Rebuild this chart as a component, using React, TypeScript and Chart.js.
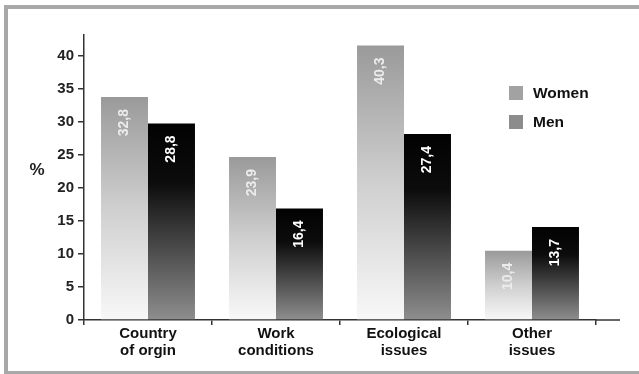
import React, { useEffect, useRef } from "react";
import { Chart, registerables } from "chart.js";

Chart.register(...registerables);

const categories: string[][] = [
  ["Country", "of orgin"],
  ["Work", "conditions"],
  ["Ecological", "issues"],
  ["Other", "issues"],
];
const seriesNames = ["Women", "Men"];
const womenValues = [33.8, 24.7, 41.6, 10.5];
const menValues = [29.8, 16.9, 28.2, 14.1];
const womenLabels = ["32,8", "23,9", "40,3", "10,4"];
const menLabels = ["28,8", "16,4", "27,4", "13,7"];
const yTickStep = 5;
const yMax = 43.2;

const FONT = "'Liberation Sans', Arial, sans-serif";

function barGradient(ctx: any, which: number) {
  const chart = ctx.chart;
  const scales = chart.scales;
  if (!scales || !scales.y || ctx.type !== "data") {
    return which === 0 ? "#c8c8c8" : "#333";
  }
  const v = ctx.raw as number;
  const yTop = scales.y.getPixelForValue(v);
  const yBase = scales.y.getPixelForValue(0);
  if (!isFinite(yTop) || !isFinite(yBase) || yBase - yTop < 1) {
    return which === 0 ? "#c8c8c8" : "#333";
  }
  const g = chart.ctx.createLinearGradient(0, yTop, 0, yBase);
  if (which === 0) {
    g.addColorStop(0, "#9a9a9a");
    g.addColorStop(0.5, "#cfcfcf");
    g.addColorStop(1, "#f8f8f8");
  } else {
    g.addColorStop(0, "#020202");
    g.addColorStop(0.3, "#0c0c0c");
    g.addColorStop(1, "#8e8e8e");
  }
  return g;
}

const decorPlugin = {
  id: "decor",
  beforeDraw(chart: any) {
    const ctx = chart.ctx;
    ctx.save();
    ctx.fillStyle = "#ffffff";
    ctx.fillRect(0, 0, chart.width, chart.height);
    ctx.fillStyle = "#a8a8a8";
    ctx.fillRect(4, 5, chart.width - 4, 4);
    ctx.fillRect(4, 5, 4, chart.height - 5);
    ctx.fillRect(4, chart.height - 3, chart.width - 4, 3);
    ctx.restore();
  },
  afterDraw(chart: any) {
    const ctx = chart.ctx;
    const area = chart.chartArea;
    ctx.save();
    // extend x axis line
    ctx.strokeStyle = "#333";
    ctx.lineWidth = 1.5;
    ctx.beginPath();
    ctx.moveTo(area.right - 1, area.bottom);
    ctx.lineTo(area.right + 24, area.bottom);
    ctx.stroke();

    // % label
    ctx.fillStyle = "#222";
    ctx.font = `bold 17px ${FONT}`;
    ctx.textAlign = "center";
    ctx.textBaseline = "middle";
    ctx.fillText("%", 37, 170);

    // legend
    const legendColors = ["#a2a2a2", "#8c8c8c"];
    const legendY = [86, 115];
    ctx.font = `bold 15.5px ${FONT}`;
    ctx.textAlign = "left";
    for (let i = 0; i < seriesNames.length; i++) {
      ctx.fillStyle = legendColors[i];
      ctx.fillRect(509, legendY[i], 14, 14);
      ctx.fillStyle = "#111";
      ctx.fillText(seriesNames[i], 533, legendY[i] + 7.5);
    }

    // bar value labels
    const labelSets = [womenLabels, menLabels];
    const labelColors = ["#ececec", "#ffffff"];
    ctx.font = `bold 14px ${FONT}`;
    ctx.textAlign = "right";
    ctx.textBaseline = "middle";
    for (let d = 0; d < chart.data.datasets.length; d++) {
      const meta = chart.getDatasetMeta(d);
      meta.data.forEach((el: any, i: number) => {
        ctx.save();
        ctx.translate(el.x, el.y + 12);
        ctx.rotate(-Math.PI / 2);
        ctx.fillStyle = labelColors[d];
        ctx.fillText(labelSets[d][i], 0, 0);
        ctx.restore();
      });
    }
    ctx.restore();
  },
};

export default function App() {
  const ref = useRef<HTMLCanvasElement | null>(null);
  useEffect(() => {
    if (!ref.current) return;
    const chart = new Chart(ref.current, {
      type: "bar",
      data: {
        labels: categories as any,
        datasets: [
          {
            label: seriesNames[0],
            data: womenValues,
            backgroundColor: (c: any) => barGradient(c, 0),
            borderWidth: 0,
            barPercentage: 1,
            categoryPercentage: 0.734,
          },
          {
            label: seriesNames[1],
            data: menValues,
            backgroundColor: (c: any) => barGradient(c, 1),
            borderWidth: 0,
            barPercentage: 1,
            categoryPercentage: 0.734,
          },
        ],
      },
      options: {
        responsive: false,
        animation: false,
        events: [],
        layout: { padding: { left: 44, right: 43, top: 35, bottom: 0 } },
        plugins: {
          legend: { display: false },
          tooltip: { enabled: false },
          title: { display: false },
        },
        scales: {
          x: {
            type: "category",
            offset: true,
            grid: {
              display: true,
              drawOnChartArea: false,
              drawTicks: true,
              tickLength: 5,
              color: "#333",
              lineWidth: 1.5,
              offset: true,
            },
            border: { display: true, color: "#333", width: 1.5 },
            ticks: {
              color: "#111",
              padding: 0,
              maxRotation: 0,
              autoSkip: false,
              font: { family: FONT, weight: "bold", size: 15, lineHeight: 1.17 },
            },
            afterFit: (s: any) => {
              s.height = 54;
            },
          },
          y: {
            min: 0,
            max: yMax,
            grid: {
              display: true,
              drawOnChartArea: false,
              drawTicks: true,
              tickLength: 6,
              color: "#333",
              lineWidth: 1.5,
            },
            border: { display: true, color: "#333", width: 1.5 },
            ticks: {
              stepSize: yTickStep,
              includeBounds: false,
              color: "#222",
              padding: 4,
              font: { family: FONT, weight: "bold", size: 15 },
            },
            afterFit: (s: any) => {
              s.width = 40;
            },
          },
        },
      },
      plugins: [decorPlugin],
    } as any);
    return () => chart.destroy();
  }, []);
  return (
    <div style={{ position: "absolute", left: 0, top: 0, width: 639, height: 374 }}>
      <canvas ref={ref} width={639} height={374} style={{ display: "block" }} />
    </div>
  );
}
